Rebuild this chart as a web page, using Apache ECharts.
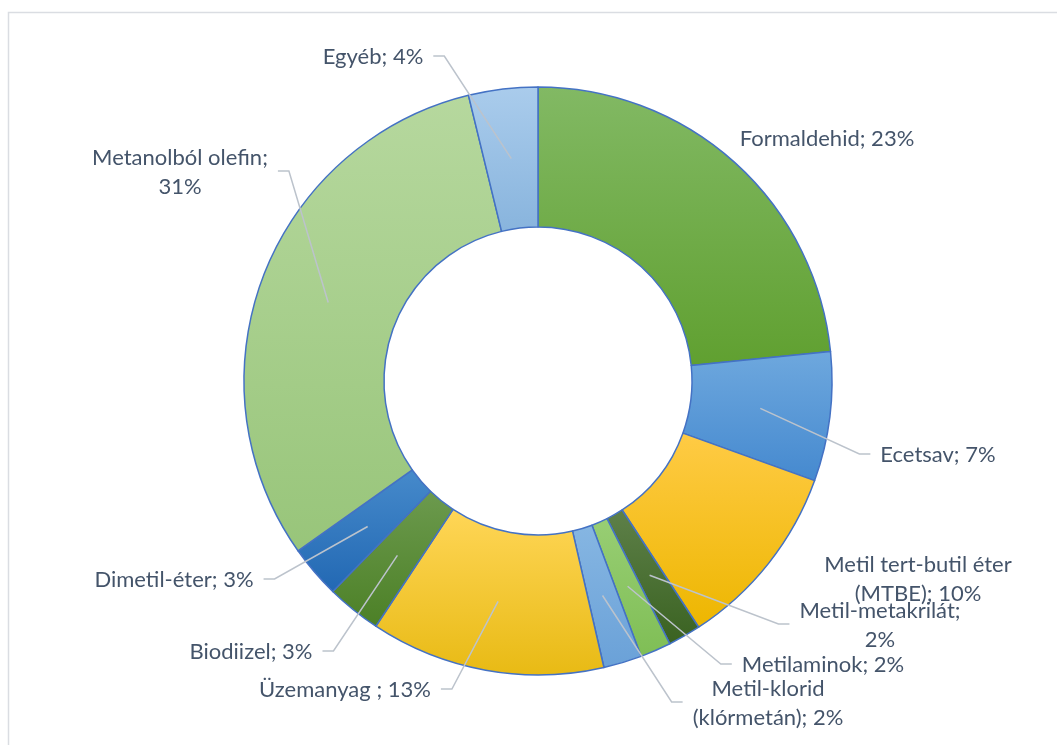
<!DOCTYPE html>
<html>
<head>
<meta charset="utf-8">
<script src="https://cdn.jsdelivr.net/npm/echarts@6/dist/echarts.min.js"></script>
<style>
  html, body { margin: 0; padding: 0; background: #ffffff; }
  #chart { width: 1057px; height: 745px; }
</style>
</head>
<body>
<div id="chart"></div>
<script>
// felhasználási területek (\n = sortörés a címkében)
const categories = [
  'Formaldehid',
  'Ecetsav',
  'Metil tert-butil éter\n(MTBE)',
  'Metil-metakrilát',
  'Metilaminok',
  'Metil-klorid\n(klórmetán)',
  'Üzemanyag ',
  'Biodiizel',
  'Dimetil-éter',
  'Metanolból olefin',
  'Egyéb'
]
// részesedés, %
const shares = [23.4, 7.1, 10.3, 1.8, 1.7, 2.1, 12.9, 3.0, 2.9, 31.0, 3.8]

// címkék helye (középpont, px) és vezetővonal
const labelAnchors = [
  [827, 139], [938, 455], [918, 579], [880, 625], [823, 665], [768, 703],
  [345, 690], [251, 652], [174, 580], [180, 172], [373, 57]
]
const breakAfterName = [false, false, false, true, false, false, false, false, false, true, false]
const hasLeader = [false, true, false, true, true, true, true, true, true, true, true]

// kitöltés: [felső, alsó] színátmenet
const fills = [
  ['#82B964', '#60A030'],
  ['#6EA8DE', '#4589CF'],
  ['#FFCB45', '#EDB600'],
  ['#5E8049', '#3A6221'],
  ['#98CE74', '#7FBE55'],
  ['#86B6E2', '#6AA1D8'],
  ['#FFD657', '#E8BA14'],
  ['#6C9A4E', '#4C8026'],
  ['#468ACB', '#2268B3'],
  ['#B6D89E', '#98C57A'],
  ['#AACCEC', '#88B4DD']
]

const CX = 538
const CY = 381
const R_IN = 154
const R_OUT = 294
const R_MID = (R_IN + R_OUT) / 2

const total = shares.reduce((a, b) => a + b, 0)
function midAngle(i) {
  let before = 0
  for (let k = 0; k < i; k++) before += shares[k]
  return (before + shares[i] / 2) / total * Math.PI * 2
}

const chart = echarts.init(document.getElementById('chart'))

const pieBase = {
  type: 'pie',
  center: [CX, CY],
  radius: [R_IN, R_OUT],
  startAngle: 90,
  clockwise: true,
  avoidLabelOverlap: false
}

chart.setOption({
  backgroundColor: '#ffffff',
  animation: false,
  graphic: [{
    type: 'rect',
    shape: { x: 8.5, y: 12.5, width: 1100, height: 800 },
    style: { fill: 'none', stroke: '#DADDE2', lineWidth: 1.5 },
    silent: true
  }],
  series: [
    // a gyűrű szeletei
    Object.assign({}, pieBase, {
      z: 2,
      label: { show: false },
      labelLine: { show: false },
      itemStyle: { borderColor: '#4472C4', borderWidth: 1.5 },
      data: categories.map((name, i) => ({
        name: name,
        value: shares[i],
        itemStyle: {
          color: new echarts.graphic.LinearGradient(0, 0, 0, 1, [
            { offset: 0, color: fills[i][0] },
            { offset: 1, color: fills[i][1] }
          ])
        }
      }))
    }),
    // címkék és vezetővonalak a szeletek fölött
    Object.assign({}, pieBase, {
      z: 4,
      silent: true,
      itemStyle: { color: 'rgba(0,0,0,0)', borderWidth: 0 },
      label: {
        show: true,
        position: 'outside',
        fontFamily: 'Lato',
        fontSize: 22,
        lineHeight: 29,
        color: '#44546A',
        align: 'center',
        formatter: p => {
          const pct = Math.round(p.percent) + '%'
          return breakAfterName[p.dataIndex] ? p.name + ';\n' + pct : p.name + '; ' + pct
        }
      },
      labelLine: {
        show: true,
        lineStyle: { color: '#BCC3CC', width: 1.5 }
      },
      labelLayout: params => {
        const i = params.dataIndex
        const [lx, ly] = labelAnchors[i]
        const w = params.labelRect.width
        const a = midAngle(i)
        const start = [CX + R_MID * Math.sin(a), CY - R_MID * Math.cos(a)]
        const isLeft = lx < CX
        const edge = isLeft ? lx + w / 2 : lx - w / 2
        const dir = isLeft ? 1 : -1
        return {
          x: lx,
          y: ly,
          align: 'center',
          verticalAlign: 'middle',
          labelLinePoints: [start, [edge + dir * 21, ly - 1], [edge + dir * 10, ly - 1]]
        }
      },
      data: categories.map((name, i) => ({
        name: name,
        value: shares[i],
        labelLine: { show: hasLeader[i] }
      }))
    })
  ]
})
</script>
</body>
</html>
